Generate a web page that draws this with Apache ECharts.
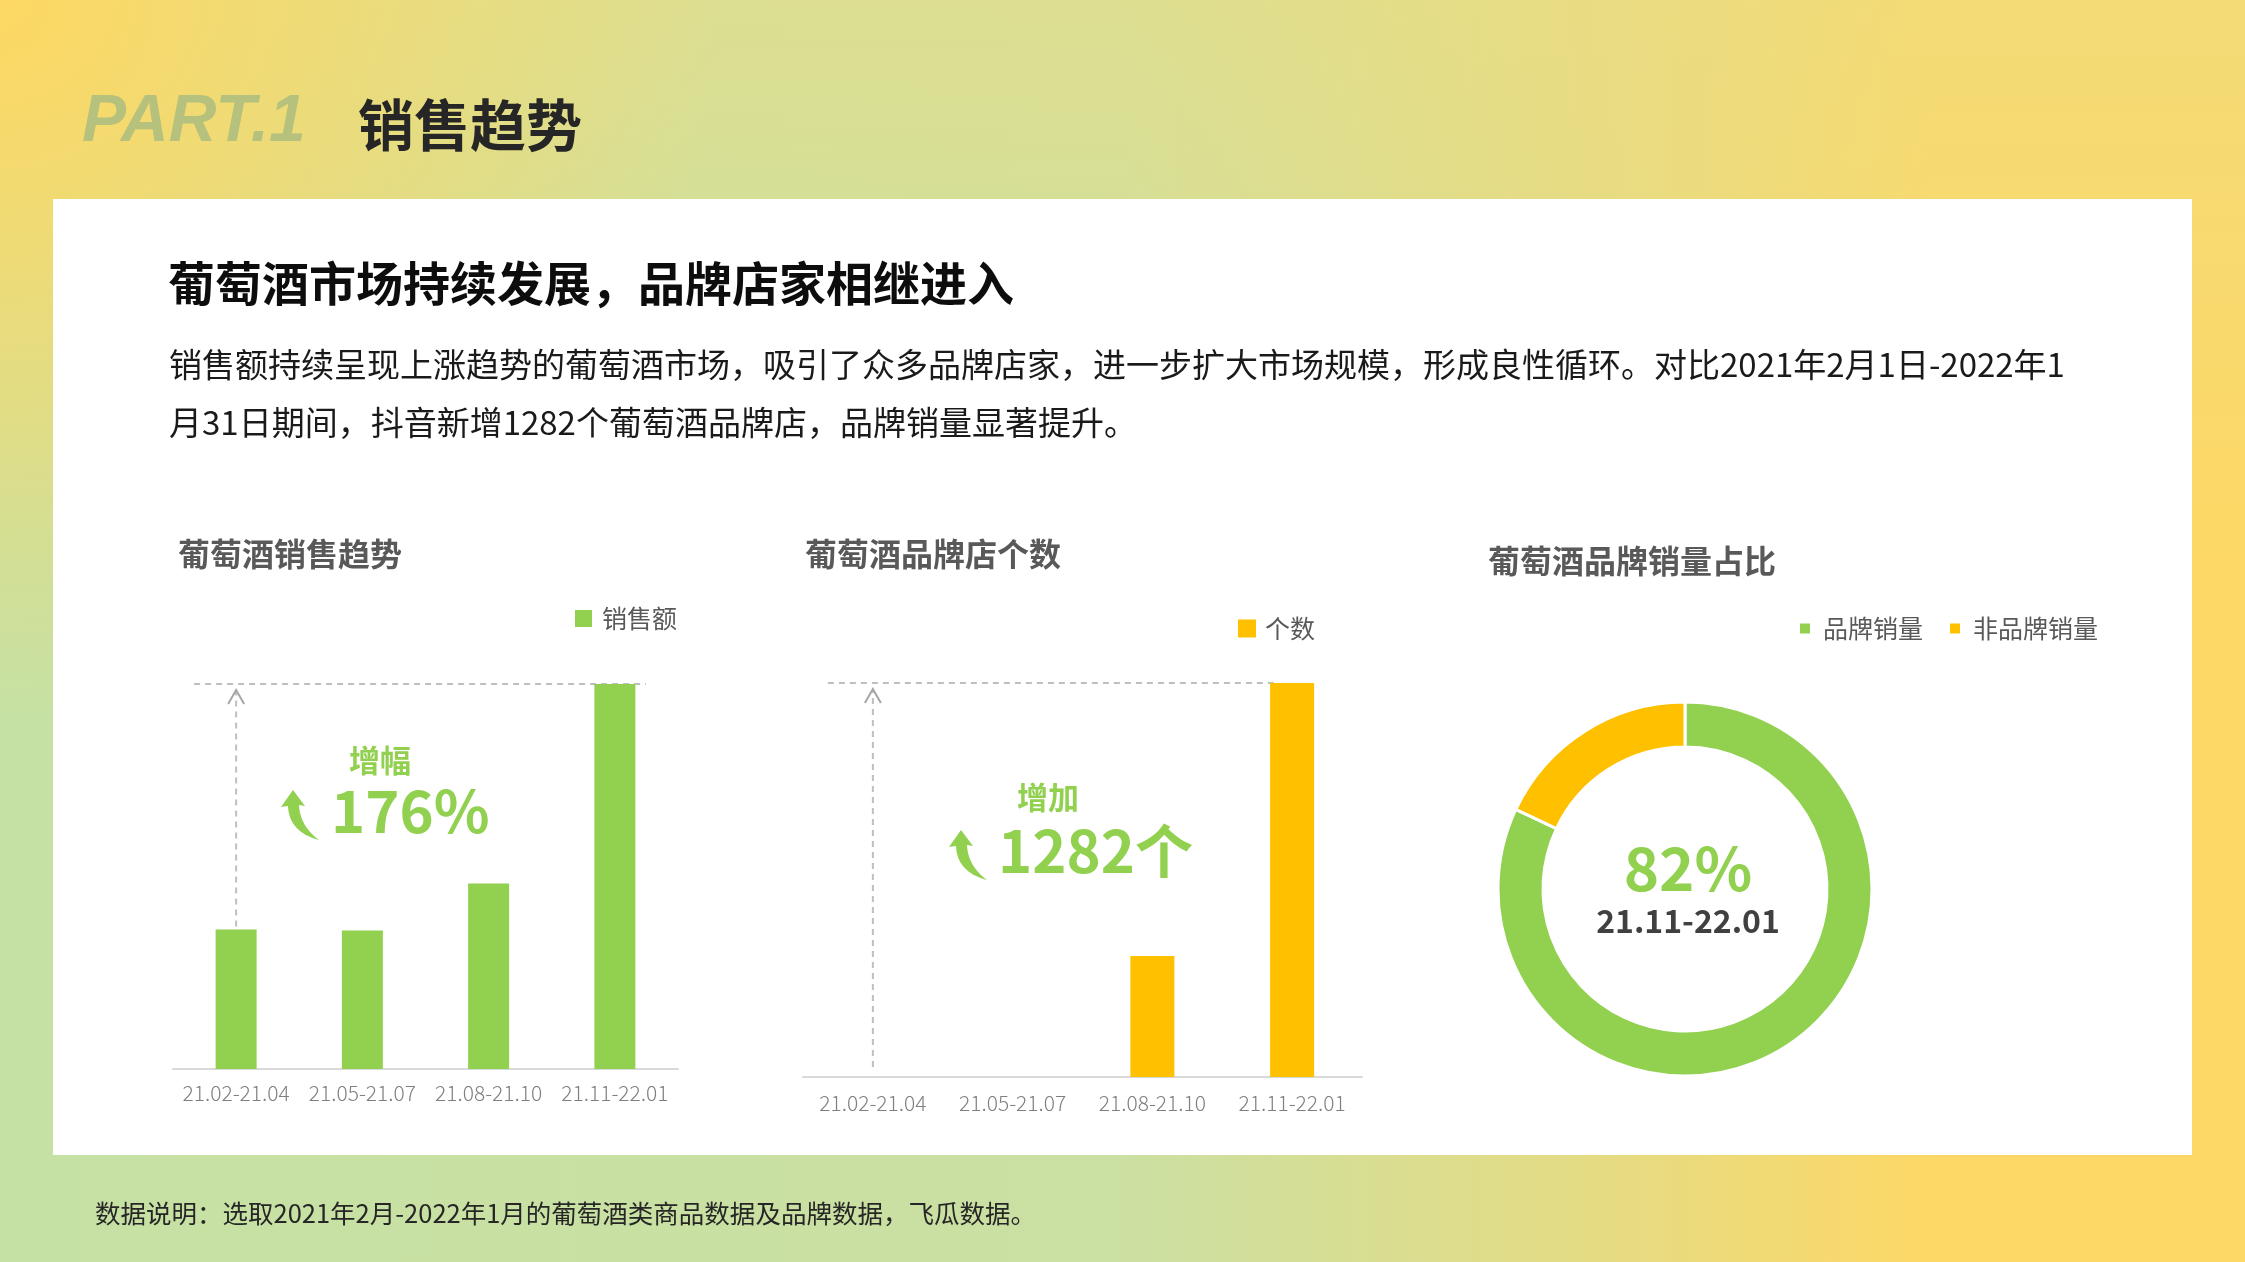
<!DOCTYPE html>
<html>
<head>
<meta charset="utf-8">
<title>销售趋势</title>
<script src="https://cdn.jsdelivr.net/npm/echarts@6/dist/echarts.min.js"></script>
<style>
  html, body { margin: 0; padding: 0; overflow: hidden; }
  #main { width: 2245px; height: 1262px; }
</style>
</head>
<body>
<div id="main"></div>
<script>
// data
var periods = ['21.02-21.04', '21.05-21.07', '21.08-21.10', '21.11-22.01'];
var salesIndex = [100, 99.3, 133, 276];     // 销售额 (relative, first period = 100)
var shopCount = [0, 0, 394, 1282];          // 品牌店个数
var shareNames = ['品牌销量', '非品牌销量'];
var shareValues = [82, 18];

var GREEN = '#92d050';
var YELLOW = '#ffc000';
var CJK = '"Noto Sans CJK SC", "Noto Sans", sans-serif';

var chart = echarts.init(document.getElementById('main'));

function xAxisFor(gridIndex, margin) {
    return {
        type: 'category',
        gridIndex: gridIndex,
        data: periods,
        axisLine: { lineStyle: { color: '#d9d9d9', width: 2 } },
        axisTick: { show: false },
        axisLabel: {
            color: '#7f7f7f',
            fontSize: 21,
            fontFamily: CJK,
            fontWeight: 300,
            margin: margin,
            interval: 0
        }
    };
}

function yAxisFor(gridIndex) {
    return {
        type: 'value',
        gridIndex: gridIndex,
        min: 0,
        max: 'dataMax',
        show: false,
        splitLine: { show: false }
    };
}

chart.setOption({
    animation: false,
    backgroundColor: 'transparent',
    textStyle: { fontFamily: CJK },
    grid: [
        { left: 173, top: 684, width: 505, height: 385 },
        { left: 803, top: 683, width: 559, height: 394 }
    ],
    xAxis: [xAxisFor(0, 14), xAxisFor(1, 16)],
    yAxis: [yAxisFor(0), yAxisFor(1)],
    legend: [
        {
            data: ['销售额'],
            left: 570,
            top: 601,
            icon: 'rect',
            itemWidth: 17,
            itemHeight: 17,
            selectedMode: false,
            textStyle: { fontSize: 25, color: '#595959', padding: [0, 0, 0, 5] }
        },
        {
            data: ['个数'],
            left: 1233,
            top: 611,
            icon: 'rect',
            itemWidth: 18,
            itemHeight: 18,
            selectedMode: false,
            textStyle: { fontSize: 25, color: '#595959', padding: [0, 0, 0, 4] }
        },
        {
            data: shareNames,
            left: 1793,
            top: 611,
            icon: 'rect',
            itemWidth: 12,
            itemHeight: 12,
            itemGap: 25,
            selectedMode: false,
            textStyle: { fontSize: 25, color: '#595959', padding: [0, 0, 0, 7] }
        }
    ],
    series: [
        {
            name: '销售额',
            type: 'bar',
            xAxisIndex: 0,
            yAxisIndex: 0,
            barWidth: 41,
            itemStyle: { color: GREEN },
            z: 5,
            data: salesIndex
        },
        {
            name: '个数',
            type: 'bar',
            xAxisIndex: 1,
            yAxisIndex: 1,
            barWidth: 44,
            itemStyle: { color: YELLOW },
            z: 5,
            data: shopCount
        },
        {
            name: '品牌销量占比',
            type: 'pie',
            center: [1685, 889],
            radius: [142, 187],
            startAngle: 90,
            clockwise: true,
            label: { show: false },
            labelLine: { show: false },
            emphasis: { disabled: true },
            itemStyle: { borderColor: '#ffffff', borderWidth: 3 },
            color: [GREEN, YELLOW],
            data: shareNames.map(function (n, i) {
                return { name: n, value: shareValues[i] };
            })
        }
    ]
});

// decorations placed from the axes
function px(gridIndex, cat, val) {
    return chart.convertToPixel({ gridIndex: gridIndex }, [cat, val]);
}

var dashStyle = { stroke: '#bfbfbf', lineWidth: 2, lineDash: [6, 5] };

// curved "up" arrow outline, built from two quadratic curves
function quad(p0, c, p1, n) {
    var pts = [];
    for (var i = 1; i <= n; i++) {
        var t = i / n, u = 1 - t;
        pts.push([u * u * p0[0] + 2 * u * t * c[0] + t * t * p1[0],
                  u * u * p0[1] + 2 * u * t * c[1] + t * t * p1[1]]);
    }
    return pts;
}
var arrowPts = [[0, 0], [12, 16], [6, 15]]
    .concat(quad([6, 15], [7, 36], [26, 50], 16))
    .concat(quad([26, 50], [-4, 42], [-5, 16], 16))
    .concat([[-12, 17]]);

function curvedArrow(x, y) {
    return {
        type: 'polygon', x: x, y: y, z: 20,
        shape: { points: arrowPts },
        style: { fill: GREEN }
    };
}

function text(x, y, str, font, fill, align) {
    return {
        type: 'text',
        x: x,
        y: y,
        z: 20,
        style: {
            text: str,
            font: font,
            fill: fill,
            align: align || 'left',
            textAlign: align || 'left',
            verticalAlign: 'middle',
            textVerticalAlign: 'middle'
        }
    };
}

function guides(gridIndex, values, x0off, x1off, yBottom) {
    var last = values.length - 1;
    var top = px(gridIndex, last, values[last]);
    var first = px(gridIndex, 0, values[0]);
    var topY = top[1];
    var yLow = yBottom != null ? yBottom : first[1] - 3;
    var ax = first[0];
    return [
        {
            type: 'line', z: 3,
            shape: { x1: ax + x0off, y1: topY, x2: top[0] + x1off, y2: topY },
            style: dashStyle
        },
        {
            type: 'line', z: 3,
            shape: { x1: ax, y1: yLow, x2: ax, y2: topY + 6 },
            style: dashStyle
        },
        {
            type: 'polyline', z: 3,
            shape: { points: [[ax - 8, topY + 20], [ax, topY + 6], [ax + 8, topY + 20]] },
            style: { stroke: '#a6a6a6', lineWidth: 2, fill: null }
        }
    ];
}

var base1 = px(1, 0, 0);

var graphics = [
    // page background
    {
        type: 'rect', z: -30, silent: true,
        shape: { x: 0, y: 0, width: 2245, height: 1262 },
        style: {
            fill: new echarts.graphic.LinearGradient(0, 0, 1, 0, [
                { offset: 0, color: '#c6e1a4' },
                { offset: 0.5, color: '#cbe0a2' },
                { offset: 0.72, color: '#e6db82' },
                { offset: 0.86, color: '#fdd866' },
                { offset: 1, color: '#fdd866' }
            ])
        }
    },
    {
        type: 'rect', z: -29, silent: true,
        shape: { x: 0, y: 0, width: 2245, height: 1262 },
        style: {
            fill: new echarts.graphic.LinearGradient(0, 0, 0, 1, [
                { offset: 0, color: 'rgba(236,221,130,0.55)' },
                { offset: 0.45, color: 'rgba(236,221,130,0)' },
                { offset: 1, color: 'rgba(236,221,130,0)' }
            ])
        }
    },
    {
        type: 'rect', z: -28, silent: true,
        shape: { x: 0, y: 0, width: 2245, height: 1262 },
        style: {
            fill: new echarts.graphic.RadialGradient(0, 0, 720, [
                { offset: 0, color: 'rgba(253,216,99,1)' },
                { offset: 1, color: 'rgba(253,216,99,0)' }
            ], true)
        }
    },
    // white panel
    {
        type: 'rect', z: -20, silent: true,
        shape: { x: 53, y: 199, width: 2139, height: 956 },
        style: { fill: '#ffffff' }
    },
    text(82, 123, 'PART.1', 'italic bold 66px "Liberation Sans", Arial, sans-serif', '#b5c17c'),
    text(358, 125, '销售趋势', 'bold 56px ' + CJK, '#262626'),
    text(168, 283, '葡萄酒市场持续发展，品牌店家相继进入', 'bold 47px ' + CJK, '#0d0d0d'),
    text(169, 364, '销售额持续呈现上涨趋势的葡萄酒市场，吸引了众多品牌店家，进一步扩大市场规模，形成良性循环。对比2021年2月1日-2022年1', '33px ' + CJK, '#1a1a1a'),
    text(169, 422, '月31日期间，抖音新增1282个葡萄酒品牌店，品牌销量显著提升。', '33px ' + CJK, '#1a1a1a'),
    text(95, 1213, '数据说明：选取2021年2月-2022年1月的葡萄酒类商品数据及品牌数据，飞瓜数据。', '25.5px ' + CJK, '#262626'),

    // chart titles
    text(178, 554, '葡萄酒销售趋势', 'bold 32px ' + CJK, '#595959'),
    text(805, 554, '葡萄酒品牌店个数', 'bold 32px ' + CJK, '#595959'),
    text(1488, 561, '葡萄酒品牌销量占比', 'bold 32px ' + CJK, '#595959'),

    // annotations
    text(380, 760, '增幅', 'bold 31px ' + CJK, GREEN, 'center'),
    text(331, 811, '176%', 'bold 58px ' + CJK, GREEN),
    curvedArrow(293, 790),
    text(1048, 797, '增加', 'bold 31px ' + CJK, GREEN, 'center'),
    text(998, 851, '1282个', 'bold 58px ' + CJK, GREEN),
    curvedArrow(961, 830),
    text(1688, 868, '82%', 'bold 60px ' + CJK, GREEN, 'center'),
    text(1688, 921, '21.11-22.01', 'bold 32px ' + CJK, '#404040', 'center')
];

graphics = graphics
    .concat(guides(0, salesIndex, -42, 31))
    .concat(guides(1, shopCount, -45, -14, base1[1] - 10));

chart.setOption({ graphic: graphics });
</script>
</body>
</html>
